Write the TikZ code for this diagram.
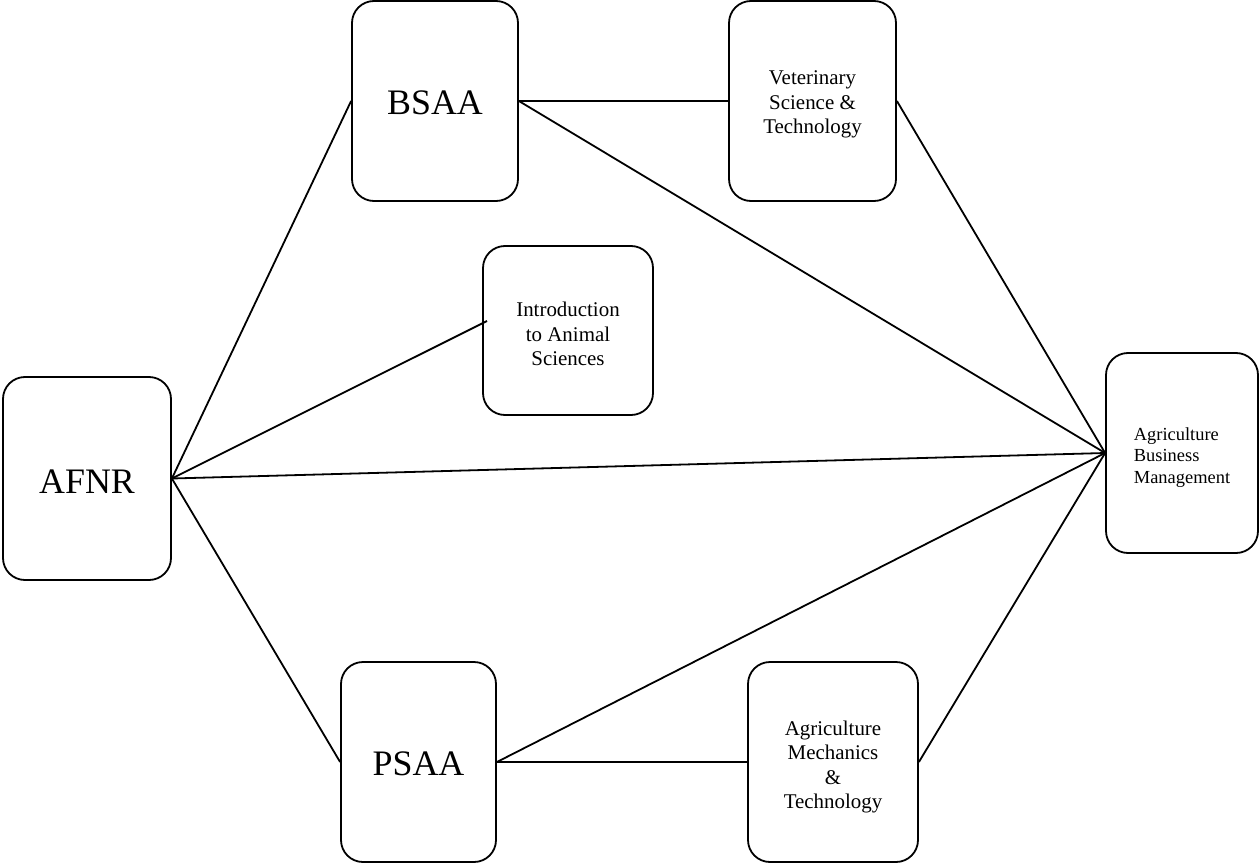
\documentclass[tikz,border=0pt]{standalone}
\usepackage{fontspec}
\setmainfont{Liberation Serif}
\begin{document}
\begin{tikzpicture}[x=1bp,y=-1bp,
  box/.style={draw, line width=1.8bp, rounded corners=22bp, inner sep=0pt},
  txt/.style={inner sep=0pt, align=center},
  big/.style={txt, font=\fontsize{36}{40}\selectfont},
  mid/.style={txt, font=\fontsize{21}{24.5}\selectfont},
  small/.style={txt, font=\fontsize{18.5}{21.5}\selectfont},
  link/.style={line width=1.8bp}]
\useasboundingbox (0,0) rectangle (1260,863);
\node[box, minimum width=168bp, minimum height=203bp] (afnr) at (87,478.5) {};
\node[box, minimum width=166bp, minimum height=200bp] (bsaa) at (435,101) {};
\node[box, minimum width=167bp, minimum height=200bp] (vet) at (812.5,101) {};
\node[box, minimum width=170bp, minimum height=169bp] (intro) at (568,330.5) {};
\node[box, minimum width=152bp, minimum height=200bp] (abm) at (1182,453) {};
\node[box, minimum width=155bp, minimum height=200bp] (psaa) at (418.5,762) {};
\node[box, minimum width=170bp, minimum height=200bp] (mech) at (833,762) {};
\node[big] (afnrT) at ([yshift=-3bp]afnr.center) {AFNR};
\node[big] (bsaaT) at ([yshift=-2bp]bsaa.center) {BSAA};
\node[mid] (vetT) at ([yshift=-3.5bp]vet.center) {Veterinary\\Science \&\\Technology};
\node[mid] (introT) at ([yshift=-3.5bp]intro.center) {Introduction\\to Animal\\Sciences};
\node[small, align=left] (abmT) at ([yshift=-4.5bp]abm.center) {Agriculture\\Business\\Management};
\node[big] (psaaT) at ([yshift=-2bp]psaa.center) {PSAA};
\node[mid] (mechT) at ([yshift=-5bp]mech.center) {Agriculture\\Mechanics\\\&\\Technology};
\coordinate (introend) at (487,321);
\draw[link] (afnr.east) -- (bsaa.west);
\draw[link] (afnr.east) -- (introend);
\draw[link] (afnr.east) -- (abm.west);
\draw[link] (afnr.east) -- (psaa.west);
\draw[link] (bsaa.east) -- (vet.west);
\draw[link] (bsaa.east) -- (abm.west);
\draw[link] (vet.east) -- (abm.west);
\draw[link] (psaa.east) -- (abm.west);
\draw[link] (psaa.east) -- (mech.west);
\draw[link] (mech.east) -- (abm.west);
\end{tikzpicture}
\end{document}
